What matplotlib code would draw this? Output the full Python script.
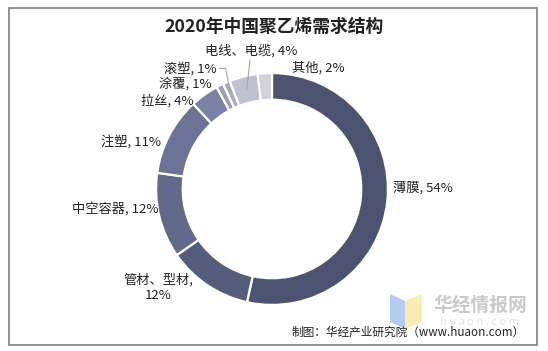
import matplotlib
matplotlib.use("Agg")
import matplotlib.pyplot as plt
from matplotlib.patches import Rectangle, Polygon
import numpy as np

plt.rcParams['font.family'] = ['Noto Sans CJK SC', 'DejaVu Sans']

# 数据
categories = ["薄膜", "管材、型材", "中空容器", "注塑", "拉丝", "涂覆", "滚塑", "电线、电缆", "其他"]
shares = [54, 12, 12, 11, 4, 1, 1, 4, 2]
label_texts = ["薄膜, 54%", "管材、型材,\n12%", "中空容器, 12%", "注塑, 11%", "拉丝, 4%",
               "涂覆, 1%", "滚塑, 1%", "电线、电缆, 4%", "其他, 2%"]
colors = ["#4b5371", "#555d7d", "#626a8b", "#6b7397", "#7a81a5",
          "#989db8", "#a8acc3", "#bec1d2", "#cfd1dd"]

# 标签位置 (数据坐标) 与对齐方式
label_pos = [(1.04, 0.01), (-0.98, -0.85), (-0.98, -0.17), (-0.96, 0.41), (-0.68, 0.76),
             (-0.52, 0.91), (-0.48, 1.04), (-0.18, 1.19), (0.175, 1.04)]
label_ha = ["left", "center", "right", "right", "right", "right", "right", "center", "left"]

W, H = 548, 351
fig = plt.figure(figsize=(W / 100, H / 100), dpi=100)

# 外框
fig.patches.append(Rectangle((9 / W, 6 / H), 528 / W, 337 / H, transform=fig.transFigure,
                             fill=False, edgecolor="#7f7f7f", linewidth=1.2))

fig.text(274 / W, 324 / H, "2020年中国聚乙烯需求结构", ha="center", va="center",
         fontsize=12.8, fontweight="bold", color="#222222")

ax = fig.add_axes([141 / W, 31 / H, 262 / W, 262 / H])
wedges, _ = ax.pie(shares, colors=colors, startangle=90, counterclock=False, radius=1,
                   wedgeprops=dict(width=0.23, edgecolor="white", linewidth=1.6))
ax.set_xlim(-1.13, 1.13)
ax.set_ylim(-1.13, 1.13)
ax.axis("off")

for i, txt in enumerate(label_texts):
    x, y = label_pos[i]
    ax.text(x, y, txt, ha=label_ha[i], va="center", fontsize=9.5, color="#222222",
            linespacing=1.25)

# 引导线
total = sum(shares)
cum = np.cumsum([0] + shares)
def mid_angle(i):
    frac = (cum[i] + shares[i] / 2) / total
    return np.deg2rad(90 - frac * 360)

a = mid_angle(6)
ax.plot([-0.45, -0.40, 0.92 * np.cos(a)], [1.04, 1.04, 0.92 * np.sin(a)],
        color="#a6a6a6", linewidth=0.8)
a = mid_angle(7)
ax.plot([-0.19, 0.885 * np.cos(a)], [1.11, 0.885 * np.sin(a)],
        color="#a6a6a6", linewidth=0.8)

# 水印
fig.patches.append(Polygon([(390 / W, 57 / H), (405 / W, 50 / H), (405 / W, 22 / H), (390 / W, 29 / H)],
                           closed=True, transform=fig.transFigure, facecolor="#b3cdf2",
                           edgecolor="none", zorder=0))
fig.patches.append(Polygon([(405 / W, 50 / H), (422 / W, 57 / H), (422 / W, 29 / H), (405 / W, 22 / H)],
                           closed=True, transform=fig.transFigure, facecolor="#fcebb0",
                           edgecolor="none", zorder=0))
fig.text(480 / W, 46 / H, "华经情报网", ha="center", va="center", fontsize=13.5,
         fontweight="bold", color="#c9c9c9")
fig.text(480 / W, 29 / H, "h u a o n . c o m", ha="center", va="center", fontsize=8,
         color="#e3e3e3")

fig.text(525 / W, 19 / H, "制图：华经产业研究院（www.huaon.com）", ha="right", va="center",
         fontsize=8.4, color="#222222")

fig.savefig("out.png", dpi=100)
